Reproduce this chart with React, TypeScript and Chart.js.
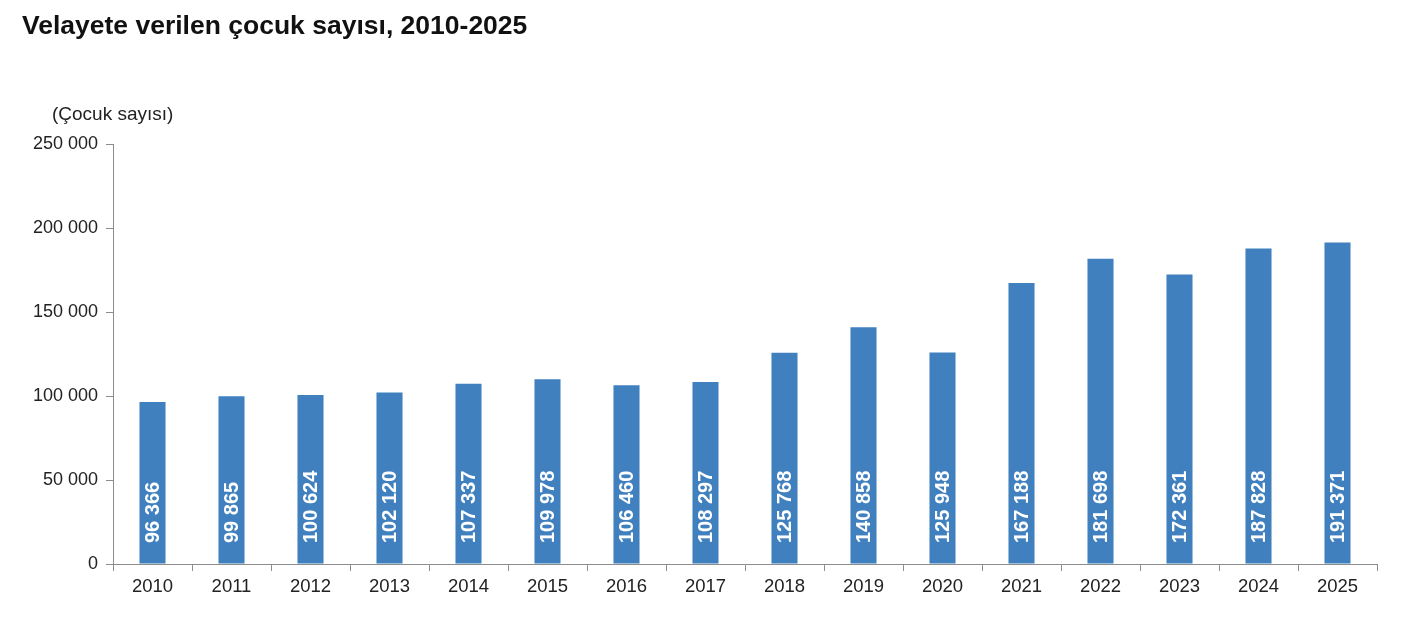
import React, { useEffect, useRef } from "react";
import { Chart, registerables } from "chart.js";

Chart.register(...registerables);

const TITLE = "Velayete verilen çocuk sayısı, 2010-2025";
const Y_TITLE = "(Çocuk sayısı)";
const years = ["2010","2011","2012","2013","2014","2015","2016","2017","2018","2019","2020","2021","2022","2023","2024","2025"];
const counts = [96366, 99865, 100624, 102120, 107337, 109978, 106460, 108297, 125768, 140858, 125948, 167188, 181698, 172361, 187828, 191371];
const yMin = 0;
const yMax = 250000;
const yStep = 50000;

const FONT = "'Liberation Sans', Arial, sans-serif";
const BAR_COLOR = "#4080BF";
const AXIS_COLOR = "#8C8C8C";

const fmt = (v: number) => String(Math.round(v)).replace(/\B(?=(\d{3})+(?!\d))/g, " ");

const textPlugin = {
  id: "textPlugin",
  afterDraw(chart: any) {
    const ctx = chart.ctx;
    ctx.save();
    ctx.fillStyle = "#111";
    ctx.font = `bold 26.5px ${FONT}`;
    ctx.textAlign = "left";
    ctx.textBaseline = "alphabetic";
    ctx.fillText(TITLE, 22, 34);
    ctx.fillStyle = "#222";
    ctx.font = `19px ${FONT}`;
    ctx.fillText(Y_TITLE, 52, 120);
    ctx.restore();
  },
  afterDatasetsDraw(chart: any) {
    const ctx = chart.ctx;
    const meta = chart.getDatasetMeta(0);
    const base = chart.chartArea.bottom;
    ctx.save();
    ctx.fillStyle = "#ffffff";
    ctx.font = `bold 20px ${FONT}`;
    ctx.textAlign = "left";
    ctx.textBaseline = "middle";
    meta.data.forEach((bar: any, i: number) => {
      ctx.save();
      ctx.translate(bar.x, base - 21);
      ctx.rotate(-Math.PI / 2);
      ctx.fillText(fmt(counts[i]), 0, 1);
      ctx.restore();
    });
    ctx.restore();
  },
};

export default function App() {
  const ref = useRef<HTMLCanvasElement | null>(null);
  useEffect(() => {
    document.body.style.margin = "0";
    const canvas = ref.current;
    if (!canvas) return;
    const chart = new Chart(canvas, {
      type: "bar",
      data: {
        labels: years,
        datasets: [
          {
            data: counts,
            backgroundColor: BAR_COLOR,
            borderWidth: 0,
            barPercentage: 0.33,
            categoryPercentage: 1,
          },
        ],
      },
      options: {
        animation: false,
        responsive: false,
        devicePixelRatio: 1,
        layout: { padding: { top: 144, right: 47, bottom: 0, left: 0 } },
        plugins: {
          legend: { display: false },
          tooltip: { enabled: false },
          title: { display: false },
        },
        scales: {
          x: {
            grid: {
              display: true,
              drawOnChartArea: false,
              drawTicks: true,
              tickLength: 7,
              color: AXIS_COLOR,
              offset: true,
            },
            border: { display: true, color: AXIS_COLOR, width: 1 },
            ticks: {
              color: "#222",
              font: { family: FONT, size: 18.5 },
              padding: 5,
              maxRotation: 0,
              autoSkip: false,
            },
            afterFit: (s: any) => {
              s.height = 72;
            },
          },
          y: {
            min: yMin,
            max: yMax,
            grid: {
              display: true,
              drawOnChartArea: false,
              drawTicks: true,
              tickLength: 7,
              color: AXIS_COLOR,
            },
            border: { display: true, color: AXIS_COLOR, width: 1 },
            ticks: {
              stepSize: yStep,
              color: "#222",
              font: { family: FONT, size: 18 },
              padding: 8,
              callback: (v: any) => fmt(Number(v)),
            },
            afterFit: (s: any) => {
              s.width = 113;
            },
          },
        },
      },
      plugins: [textPlugin],
    });
    return () => chart.destroy();
  }, []);
  return (
    <div style={{ width: 1424, height: 636, background: "#fff" }}>
      <canvas ref={ref} width={1424} height={636} style={{ display: "block" }} />
    </div>
  );
}
